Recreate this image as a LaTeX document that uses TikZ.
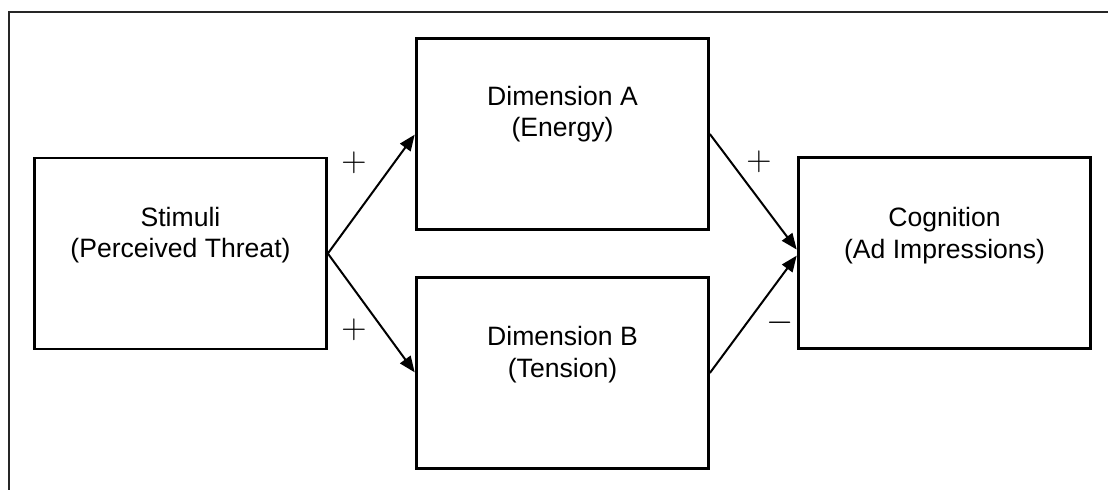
\documentclass[tikz,border=0pt]{standalone}
\usepackage{fontspec}
\setmainfont{Liberation Sans}
\usetikzlibrary{arrows.meta,positioning}
\tikzset{
  stagebox/.style={draw,line width=0.065cm,minimum width=7.3cm,minimum height=4.78cm,inner sep=0pt},
  stagetext/.style={inner sep=0pt,align=center,font=\fontsize{18.9}{22.4}\selectfont},
  sign/.style={inner sep=0pt,font=\fontsize{23}{26}\selectfont},
  link/.style={line width=0.05cm,-{Triangle[length=0.4cm,width=0.32cm]},shorten >=0.02cm},
}
\begin{document}
\begin{tikzpicture}[x=0.025cm,y=-0.025cm]
	\useasboundingbox (0,0) rectangle (1108,490);
	% frame
	\draw[line width=0.07cm,black!85] (1108,12)--(9,12)--(9,490);
	% boxes
	\node[stagebox] (stim) at (180.5,253.5) {};
	\node[stagebox] (dimA) at (562.5,134) {};
	\node[stagebox] (dimB) at (562.5,373) {};
	\node[stagebox] (cog) at (944.5,253) {};
	\node[stagetext,below=1.25cm of stim.north] (stimtxt) {Stimuli\\(Perceived Threat)};
	\node[stagetext,below=1.22cm of dimA.north] (dimAtxt) {Dimension A\\(Energy)};
	\node[stagetext,below=1.25cm of dimB.north] (dimBtxt) {Dimension B\\(Tension)};
	\node[stagetext,below=1.28cm of cog.north] (cogtxt) {Cognition\\(Ad Impressions)};
	% paths
	\draw[link](stim.east)--(dimA.west);
	\draw[link](stim.east)--(dimB.west);
	\draw[link](dimA.east)--([yshift=0.07cm]cog.west);
	\draw[link](dimB.east)--([yshift=-0.05cm]cog.west);
	\node[sign] (pA) at (354,163) {$+$};
	\node[sign] (pB) at (354,330) {$+$};
	\node[sign] (pC) at (759,162) {$+$};
	\node[sign] (mC) at (780,323) {$-$};
\end{tikzpicture}
\end{document}
